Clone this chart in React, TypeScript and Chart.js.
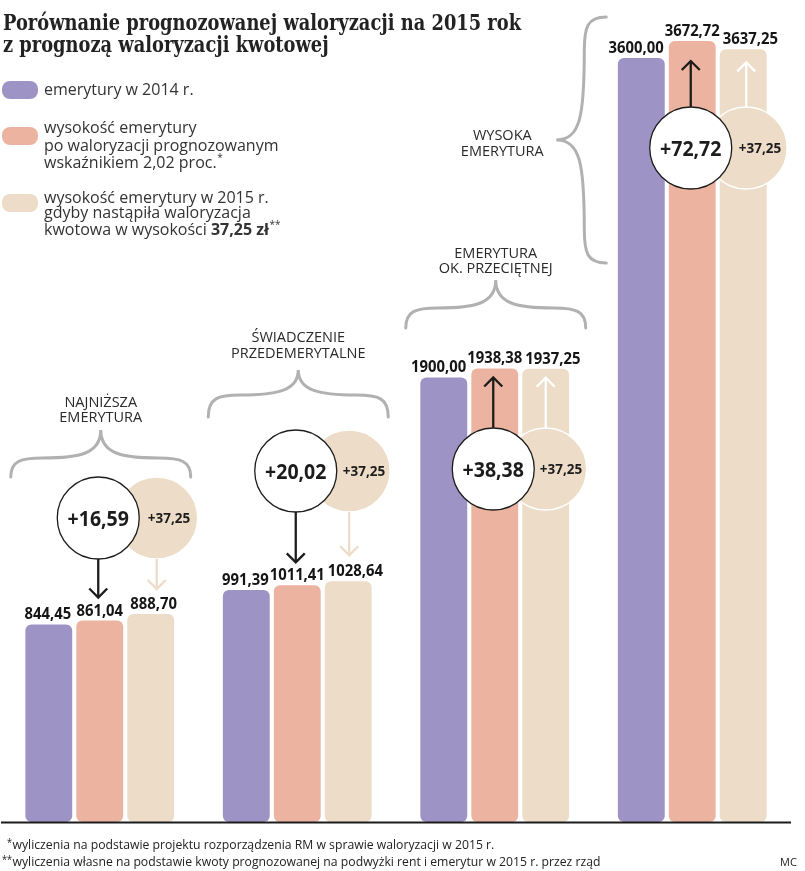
import React, { useEffect, useRef } from 'react';
import { Chart, registerables, LinearScale } from 'chart.js';

// ---------- DATA ----------
const categoryLines: string[][] = [
  ['NAJNIŻSZA', 'EMERYTURA'],
  ['ŚWIADCZENIE', 'PRZEDEMERYTALNE'],
  ['EMERYTURA', 'OK. PRZECIĘTNEJ'],
  ['WYSOKA', 'EMERYTURA'],
];
const categories = categoryLines.map((l) => l.join(' '));
const seriesNames = [
  'emerytury w 2014 r.',
  'wysokość emerytury po waloryzacji prognozowanym wskaźnikiem 2,02 proc.*',
  'wysokość emerytury w 2015 r. gdyby nastąpiła waloryzacja kwotowa w wysokości 37,25 zł**',
];
const pension2014 = [844.45, 991.39, 1900.0, 3600.0];
const pensionIndexed = [861.04, 1011.41, 1938.38, 3672.72];
const pensionFlat = [888.7, 1028.64, 1937.25, 3637.25];
const increaseIndexed = [16.59, 20.02, 38.38, 72.72];
const increaseFlat = [37.25, 37.25, 37.25, 37.25];

const titleLines = [
  'Porównanie prognozowanej waloryzacji na 2015 rok',
  'z prognozą waloryzacji kwotowej',
];
type Run = { t: string; bold?: boolean; sup?: boolean };
const legendLines: Run[][][] = [
  [[{ t: 'emerytury w 2014 r.' }]],
  [
    [{ t: 'wysokość emerytury' }],
    [{ t: 'po waloryzacji prognozowanym' }],
    [{ t: 'wskaźnikiem 2,02 proc.' }, { t: '*', sup: true }],
  ],
  [
    [{ t: 'wysokość emerytury w 2015 r.' }],
    [{ t: 'gdyby nastąpiła waloryzacja' }],
    [{ t: 'kwotowa w wysokości ' }, { t: '37,25 zł', bold: true }, { t: '**', sup: true }],
  ],
];
const footnotes = [
  ['*', 'wyliczenia na podstawie projektu rozporządzenia RM w sprawie waloryzacji w 2015 r.'],
  ['**', 'wyliczenia własne na podstawie kwoty prognozowanej na podwyżki rent i emerytur w 2015 r. przez rząd'],
];
const author = 'MC';

// ---------- STYLE / LAYOUT ----------
const COLORS = ['#9e93c5', '#ecb4a0', '#eddcc7'];
const BREAK_FROM = 2500;
const BREAK_GAP = 335;
const Y_MAX = 3513;
const FONT = '"Open Sans", "DejaVu Sans", sans-serif';

const GROUP_LAYOUT = [
  { circleY: 518, beigeDx: 6, braceSpine: 458, braceEnd: 477, braceCusp: 430, labelY: [407, 422], tipBlack: -23, tipBeige: -25 },
  { circleY: 471, beigeDx: 1, braceSpine: 395, braceEnd: 417, braceCusp: 370, labelY: [342, 358], tipBlack: -23, tipBeige: -26 },
  { circleY: 469, beigeDx: 0, braceSpine: 308, braceEnd: 328, braceCusp: 280, labelY: [258, 273], tipBlack: 9, tipBeige: 9 },
  { circleY: 148, beigeDx: 3, braceSpine: 0, braceEnd: 0, braceCusp: 0, labelY: [140, 156], tipBlack: 20, tipBeige: 13 },
];

class BrokenLinearScale extends LinearScale {
  static id = 'brokenLinear';
  static defaults = (LinearScale as any).defaults;
  getPixelForValue(value: number) {
    const v = value > BREAK_FROM ? value - BREAK_GAP : value;
    return super.getPixelForValue(v);
  }
  getValueForPixel(pixel: number) {
    const v = super.getValueForPixel(pixel) as number;
    return v > BREAK_FROM ? v + BREAK_GAP : v;
  }
}

Chart.register(...registerables, BrokenLinearScale as any);

const fmt = (v: number) => v.toFixed(2).replace('.', ',');

function fillScaled(ctx: CanvasRenderingContext2D, text: string, x: number, y: number, sx: number, align: CanvasTextAlign) {
  ctx.save();
  ctx.translate(x, y);
  ctx.scale(sx, 1);
  ctx.textAlign = align;
  ctx.fillText(text, 0, 0);
  ctx.restore();
}

function arrow(ctx: CanvasRenderingContext2D, x: number, yFrom: number, yTip: number, color: string) {
  const dir = yTip < yFrom ? -1 : 1;
  ctx.save();
  ctx.strokeStyle = color;
  ctx.lineWidth = 2.3;
  ctx.lineJoin = 'miter';
  ctx.beginPath();
  ctx.moveTo(x, yFrom);
  ctx.lineTo(x, yTip - dir * 1);
  ctx.stroke();
  ctx.beginPath();
  ctx.moveTo(x - 9, yTip - dir * 9);
  ctx.lineTo(x, yTip);
  ctx.lineTo(x + 9, yTip - dir * 9);
  ctx.stroke();
  ctx.restore();
}

function hBrace(ctx: CanvasRenderingContext2D, cx: number, half: number, yEnd: number, ySpine: number, yCusp: number) {
  ctx.beginPath();
  ctx.moveTo(cx - half, yEnd);
  ctx.bezierCurveTo(cx - half, ySpine + 3, cx - half + 10, ySpine, cx - half + 32, ySpine);
  ctx.bezierCurveTo(cx - 22, ySpine, cx, ySpine - 4, cx, yCusp);
  ctx.bezierCurveTo(cx, ySpine - 4, cx + 22, ySpine, cx + half - 32, ySpine);
  ctx.bezierCurveTo(cx + half - 10, ySpine, cx + half, ySpine + 3, cx + half, yEnd);
  ctx.stroke();
}

function vBrace(ctx: CanvasRenderingContext2D, xEnd: number, xSpine: number, xCusp: number, yTop: number, yMid: number, yBot: number) {
  ctx.beginPath();
  ctx.moveTo(xEnd, yTop);
  ctx.bezierCurveTo(xSpine + 3, yTop, xSpine, yTop + 10, xSpine, yTop + 34);
  ctx.bezierCurveTo(xSpine, yMid - 24, xSpine - 4, yMid, xCusp, yMid);
  ctx.bezierCurveTo(xSpine - 4, yMid, xSpine, yMid + 24, xSpine, yBot - 34);
  ctx.bezierCurveTo(xSpine, yBot - 10, xSpine + 3, yBot, xEnd, yBot);
  ctx.stroke();
}

function drawRuns(ctx: CanvasRenderingContext2D, runs: Run[], x: number, y: number, size: number) {
  let cx = x;
  for (const r of runs) {
    if (r.sup) {
      ctx.font = `${Math.round(size * 0.62)}px ${FONT}`;
      ctx.fillText(r.t, cx + 0.5, y - size * 0.42);
    } else {
      ctx.font = `${r.bold ? '700 ' : ''}${size}px ${FONT}`;
      ctx.fillText(r.t, cx, y);
    }
    cx += ctx.measureText(r.t).width;
  }
}

const infographic = {
  id: 'infographic',
  afterDatasetsDraw(chart: any) {
    const ctx: CanvasRenderingContext2D = chart.ctx;
    const area = chart.chartArea;
    const yScale = chart.scales.y;
    const y0 = yScale.getPixelForValue(0);
    const bar = (d: number, i: number) => chart.getDatasetMeta(d).data[i] as any;
    ctx.save();

    // baseline
    ctx.strokeStyle = '#1c1c1c';
    ctx.lineWidth = 2;
    ctx.beginPath();
    ctx.moveTo(area.left, y0 + 0.5);
    ctx.lineTo(area.right, y0 + 0.5);
    ctx.stroke();

    const R = 41;
    for (let i = 0; i < categories.length; i++) {
      const L = GROUP_LAYOUT[i];
      const p = bar(0, i), q = bar(1, i), b = bar(2, i);
      const wx = q.x - 1.5;
      const bx = b.x + L.beigeDx;
      const cy = L.circleY;

      // braces + category labels
      ctx.strokeStyle = '#b1b1b1';
      ctx.lineWidth = 3;
      ctx.lineCap = 'round';
      ctx.fillStyle = '#2a2a2a';
      ctx.textAlign = 'center';
      ctx.textBaseline = 'alphabetic';
      ctx.font = `14.5px ${FONT}`;
      if (i < 3) {
        const bcx = q.x + 1;
        hBrace(ctx, bcx, 90, L.braceEnd, L.braceSpine, L.braceCusp);
        categoryLines[i].forEach((t, k) => ctx.fillText(t, bcx, L.labelY[k]));
      } else {
        vBrace(ctx, p.x - 35, p.x - 57, p.x - 85, 17, 140, 263);
        categoryLines[i].forEach((t, k) => ctx.fillText(t, p.x - 139, L.labelY[k]));
      }
      ctx.lineCap = 'butt';

      // bubbles
      ctx.fillStyle = COLORS[2];
      ctx.beginPath();
      ctx.arc(bx, cy, R, 0, Math.PI * 2);
      ctx.fill();
      ctx.strokeStyle = '#ffffff';
      ctx.lineWidth = 1.5;
      ctx.stroke();

      ctx.fillStyle = '#ffffff';
      ctx.beginPath();
      ctx.arc(wx, cy, R, 0, Math.PI * 2);
      ctx.fill();
      ctx.strokeStyle = '#1c1c1c';
      ctx.lineWidth = 1.3;
      ctx.stroke();

      // arrows
      if (L.tipBlack < 0) {
        arrow(ctx, wx, cy + R, q.y + L.tipBlack, '#1c1c1c');
        arrow(ctx, bx, cy + R, b.y + L.tipBeige, COLORS[2]);
      } else {
        arrow(ctx, wx, cy - R, q.y + L.tipBlack, '#1c1c1c');
        arrow(ctx, bx, cy - R, b.y + L.tipBeige, '#ffffff');
      }

      // bubble texts
      ctx.fillStyle = '#1c1c1c';
      ctx.font = `700 21px ${FONT}`;
      fillScaled(ctx, '+' + fmt(increaseIndexed[i]), wx, cy + 7.5, 0.93, 'center');
      ctx.font = `700 14.5px ${FONT}`;
      fillScaled(ctx, '+' + fmt(increaseFlat[i]), (wx + R + bx + R) / 2 + 0.5, cy + 5.2, 0.93, 'center');

      // value labels
      ctx.fillStyle = '#151515';
      ctx.font = `700 16.5px ${FONT}`;
      const sx = 0.9;
      fillScaled(ctx, fmt(pension2014[i]), p.x + p.width / 2 - 1, p.y - 5, sx, 'right');
      fillScaled(ctx, fmt(pensionIndexed[i]), q.x, q.y - 5, sx, 'center');
      fillScaled(ctx, fmt(pensionFlat[i]), b.x - b.width / 2 + 3, b.y - 5, sx, 'left');
    }

    // title
    ctx.fillStyle = '#222222';
    ctx.textAlign = 'left';
    ctx.textBaseline = 'alphabetic';
    ctx.font = `700 23px "DejaVu Serif", serif`;
    const ts = 518 / ctx.measureText(titleLines[0]).width;
    titleLines.forEach((t, k) => {
      ctx.save();
      ctx.translate(3, 30 + k * 22);
      ctx.scale(ts, 1);
      ctx.fillText(t, 0, 0);
      ctx.restore();
    });

    // legend
    const swatchY = [81, 127, 194];
    const lineY = [[95], [133, 151, 168], [203, 218, 235]];
    legendLines.forEach((item, s) => {
      ctx.fillStyle = COLORS[s];
      ctx.beginPath();
      (ctx as any).roundRect(2, swatchY[s], 36, 18, 8);
      ctx.fill();
      ctx.fillStyle = '#333333';
      item.forEach((runs, k) => drawRuns(ctx, runs, 44, lineY[s][k], 16));
    });

    // footnotes
    ctx.fillStyle = '#222222';
    ctx.font = `13.5px ${FONT}`;
    const fs = 588 / ctx.measureText(footnotes[1][1]).width;
    const fy = [849, 866];
    const starX = [7, 2];
    footnotes.forEach(([star, text], k) => {
      ctx.save();
      ctx.translate(0, fy[k]);
      ctx.scale(fs, 1);
      ctx.font = `10px ${FONT}`;
      ctx.fillText(star, starX[k] / fs, -3);
      ctx.font = `13.5px ${FONT}`;
      ctx.fillText(text, 12.5 / fs, 0);
      ctx.restore();
    });
    ctx.font = `11px ${FONT}`;
    ctx.fillText(author, 780, 866);

    ctx.restore();
  },
};

export default function App() {
  const ref = useRef<HTMLCanvasElement>(null);
  useEffect(() => {
    if (!ref.current) return;
    const chart = new Chart(ref.current, {
      type: 'bar',
      data: {
        labels: categories,
        datasets: [pension2014, pensionIndexed, pensionFlat].map((d, s) => ({
          label: seriesNames[s],
          data: d,
          backgroundColor: COLORS[s],
          borderWidth: 0,
          borderRadius: 6,
          borderSkipped: false,
          categoryPercentage: 0.774,
          barPercentage: 0.92,
        })),
      },
      options: {
        responsive: false,
        animation: false,
        devicePixelRatio: 1,
        layout: { padding: { left: 1, right: 14, top: 0, bottom: 49 } },
        plugins: { legend: { display: false }, tooltip: { enabled: false }, title: { display: false } },
        scales: {
          x: { display: false },
          y: { type: 'brokenLinear' as any, display: false, min: 0, max: Y_MAX },
        },
      },
      plugins: [infographic],
    } as any);
    return () => chart.destroy();
  }, []);
  return (
    <div style={{ position: 'absolute', left: 0, top: 0, width: 805, height: 871, background: '#fff' }}>
      <canvas ref={ref} width={805} height={871} style={{ display: 'block' }} />
    </div>
  );
}
